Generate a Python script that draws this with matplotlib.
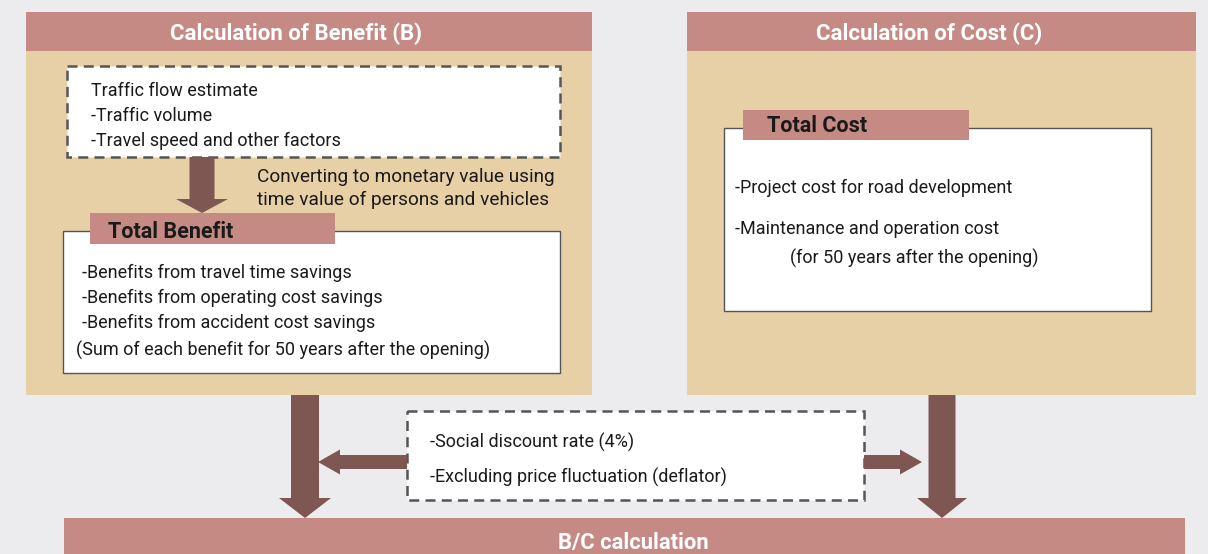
import matplotlib.pyplot as plt
import matplotlib.patches as mpatches

# colours
bg_color = "#ECECEE"
tan_color = "#E7CFA6"
pink_color = "#C58A83"
arrow_color = "#7E5753"
edge_color = "#555555"

# texts
benefit_title = "Calculation of Benefit (B)"
cost_title = "Calculation of Cost (C)"
traffic_lines = ["Traffic flow estimate", "-Traffic volume", "-Travel speed and other factors"]
convert_lines = ["Converting to monetary value using", "time value of persons and vehicles"]
benefit_tab = "Total Benefit"
benefit_lines = ["-Benefits from travel time savings",
                 "-Benefits from operating cost savings",
                 "-Benefits from accident cost savings"]
benefit_note = "(Sum of each benefit for 50 years after the opening)"
cost_tab = "Total Cost"
cost_lines = ["-Project cost for road development", "-Maintenance and operation cost"]
cost_note = "(for 50 years after the opening)"
discount_lines = ["-Social discount rate (4%)", "-Excluding price fluctuation (deflator)"]
bc_title = "B/C calculation"

FONT = ["Liberation Sans Narrow", "Roboto", "DejaVu Sans"]
W, H = 1208, 554

fig = plt.figure(figsize=(W / 100, H / 100), dpi=100)
fig.patch.set_facecolor(bg_color)
ax = fig.add_axes([0, 0, 1, 1])
ax.set_xlim(0, W)
ax.set_ylim(H, 0)
ax.axis("off")


def rect(x0, y0, x1, y1, fc, ec="none", lw=0, ls="-", z=1):
    ax.add_patch(mpatches.Rectangle((x0, y0), x1 - x0, y1 - y0, facecolor=fc,
                                    edgecolor=ec, linewidth=lw, linestyle=ls, zorder=z))


def txt(x, y, s, size=13, color="#1a1a1a", weight="normal", ha="left"):
    ax.text(x, y + 1.5, s, fontsize=size, color=color, fontweight=weight, ha=ha,
            va="center", family=FONT, zorder=10)


def arrow(x, y, dx, dy, w, hw, hl):
    ax.add_patch(mpatches.FancyArrow(x, y, dx, dy, width=w, head_width=hw, head_length=hl,
                                     length_includes_head=True, color=arrow_color,
                                     linewidth=0, zorder=3))


# left panel
rect(26, 12, 592, 395, tan_color)
rect(26, 12, 592, 51, pink_color, z=2)
txt(296, 32, benefit_title, size=16, color="white", weight="bold", ha="center")

rect(67, 66, 560, 157, "white", ec=edge_color, lw=1.8, ls=(0, (4, 2.5)), z=2)
for i, s in enumerate(traffic_lines):
    txt(91, 90 + i * 24.5, s)

arrow(202, 157, 0, 56, 25, 52, 14)
for i, s in enumerate(convert_lines):
    txt(257, 176 + i * 22, s, size=13.7)

rect(63, 231, 560, 373, "white", ec=edge_color, lw=1.0, z=2)
rect(90, 213, 335, 244, pink_color, z=4)
txt(108, 230, benefit_tab, size=15.5, weight="bold")
for i, s in enumerate(benefit_lines):
    txt(82, 271 + i * 25, s)
txt(76, 349, benefit_note)

# right panel
rect(687, 12, 1196, 395, tan_color)
rect(687, 12, 1196, 51, pink_color, z=2)
txt(929, 32, cost_title, size=16, color="white", weight="bold", ha="center")

rect(724, 128, 1151, 311, "white", ec=edge_color, lw=1.0, z=2)
rect(743, 110, 969, 140, pink_color, z=4)
txt(767, 125, cost_tab, size=15.5, weight="bold")
for i, s in enumerate(cost_lines):
    txt(735, 186 + i * 41, s)
txt(790, 257, cost_note)

# bottom flow
arrow(305, 395, 0, 123, 28, 52, 20)
arrow(942, 395, 0, 123, 27, 50, 20)
rect(407, 411, 864, 500, "white", ec=edge_color, lw=1.8, ls=(0, (4, 2.5)), z=2)
for i, s in enumerate(discount_lines):
    txt(430, 441 + i * 35, s)
arrow(407, 462, -89, 0, 14, 25, 22)
arrow(864, 462, 58, 0, 14, 25, 22)

rect(64, 518, 1185, 560, pink_color, z=2)
txt(633, 541, bc_title, size=15.8, color="white", weight="bold", ha="center")

fig.savefig("out.png", dpi=100, facecolor=fig.get_facecolor())
